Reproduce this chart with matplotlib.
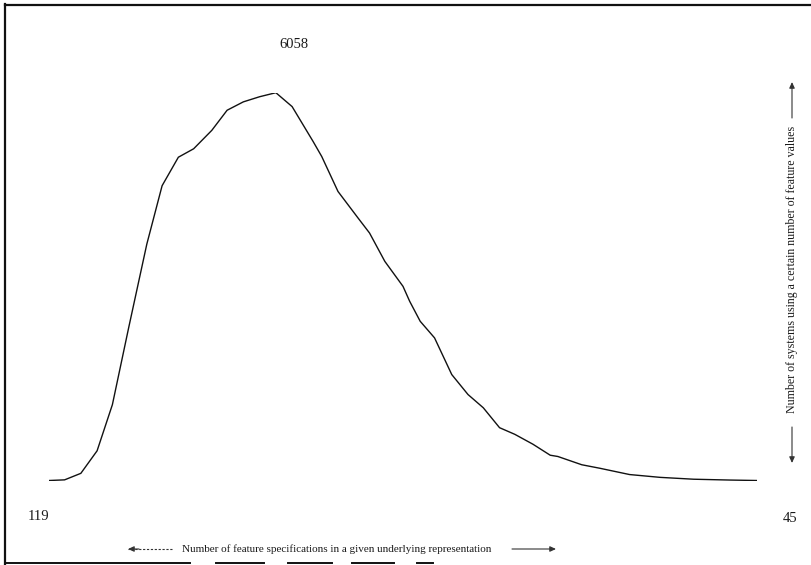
import matplotlib
matplotlib.use("Agg")
import matplotlib.pyplot as plt
from matplotlib.lines import Line2D

# ---- data ----
feature_specs = [119.0, 117.4, 115.7, 114.0, 112.4, 110.7, 108.8, 107.2, 105.5, 103.9,
                 102.0, 100.4, 98.7, 97.0, 95.3, 93.6, 91.4, 90.5, 88.8, 86.7,
                 85.5, 83.9, 82.0, 81.3, 80.2, 78.7, 76.9, 75.2, 73.6, 71.9,
                 70.3, 68.4, 66.6, 65.8, 63.3, 61.4, 58.3, 55.1, 51.6, 47.8, 45.0]
systems = [0, 10, 112, 464, 1185, 2385, 3692, 4605, 5050, 5182,
           5470, 5784, 5915, 5995, 6058, 5841, 5295, 5061, 4515, 4100,
           3866, 3423, 3033, 2799, 2487, 2228, 1655, 1343, 1136, 825,
           721, 566, 395, 375, 246, 191, 93, 49, 20, 7, 0]
peak_label = "6058"
x_left_label = "119"
x_right_label = "45"
x_title = "Number of feature specifications in a given underlying representation"
y_title = "Number of systems using a certain number of feature values"

W, H = 811, 565
fig = plt.figure(figsize=(W / 100, H / 100), dpi=100)
fig.patch.set_facecolor("white")

def fx(px):
    return px / W

def fy(py):
    return 1 - py / H

# axes placed so the curve sits where it does in the scan
x0, x1 = 49.3, 756.7
ybase, ytop = 480.5, 92.7
ax = fig.add_axes([fx(x0), fy(ybase), (x1 - x0) / W, (ybase - ytop) / H])
ax.plot(feature_specs, systems, color="#111111", lw=1.0, solid_joinstyle="miter")
ax.set_xlim(max(feature_specs), min(feature_specs))
ax.set_ylim(0, max(systems))
ax.axis("off")

serif = ["Liberation Serif", "DejaVu Serif"]
tc = "#1a1a1a"
ac = "#333333"

fig.text(fx(294), fy(45), peak_label, ha="center", va="center", fontsize=10.5,
         family=serif, color=tc)
fig.text(fx(39), fy(517), x_left_label, ha="center", va="center", fontsize=10.5,
         family=serif, color=tc)
fig.text(fx(790), fy(518), x_right_label, ha="center", va="center", fontsize=10.5,
         family=serif, color=tc)

def arrow(xa, ya, xb, yb, ls="-"):
    """arrow from (xa,ya) to (xb,yb) in pixel coords, head at (xb,yb)"""
    if ls != "-":
        fig.add_artist(Line2D([fx(xa), fx(xb)], [fy(ya), fy(yb)], transform=fig.transFigure,
                              color=ac, lw=0.8, ls=ls))
        xa2 = xb + (xa - xb) * 0.25
        ya2 = yb + (ya - yb) * 0.25
        xa, ya = xa2, ya2
    fig.add_artist(plt.matplotlib.patches.FancyArrowPatch(
        (fx(xa), fy(ya)), (fx(xb), fy(yb)), transform=fig.transFigure,
        arrowstyle="-|>,head_length=3.5,head_width=1.6", color=ac, lw=0.8,
        shrinkA=0, shrinkB=0))

# x title with arrows
fig.text(fx(182), fy(549), x_title, ha="left", va="center", fontsize=8.0,
         family=serif, color=tc)
arrow(172, 549, 128, 549, ls=(0, (2, 1.5)))
arrow(512, 549, 556, 549)

# right vertical title with arrows
fig.text(fx(792), fy(269), y_title, ha="center", va="center", rotation=90,
         fontsize=8.6, family=serif, color=tc)
arrow(792, 118, 792, 82)
arrow(792, 427, 792, 463)

# frame of the scanned page
fig.add_artist(Line2D([fx(5), fx(5)], [fy(4), fy(564)], transform=fig.transFigure,
                      color="#111111", lw=1.6))
fig.add_artist(Line2D([fx(5), fx(811)], [fy(5), fy(5)], transform=fig.transFigure,
                      color="#111111", lw=1.6))
for a, b in [(5, 190), (216, 264), (288, 332), (352, 394), (417, 433)]:
    fig.add_artist(Line2D([fx(a), fx(b)], [fy(563), fy(563)], transform=fig.transFigure,
                          color="#111111", lw=1.4))

fig.savefig("out.png", dpi=100, facecolor="white")
